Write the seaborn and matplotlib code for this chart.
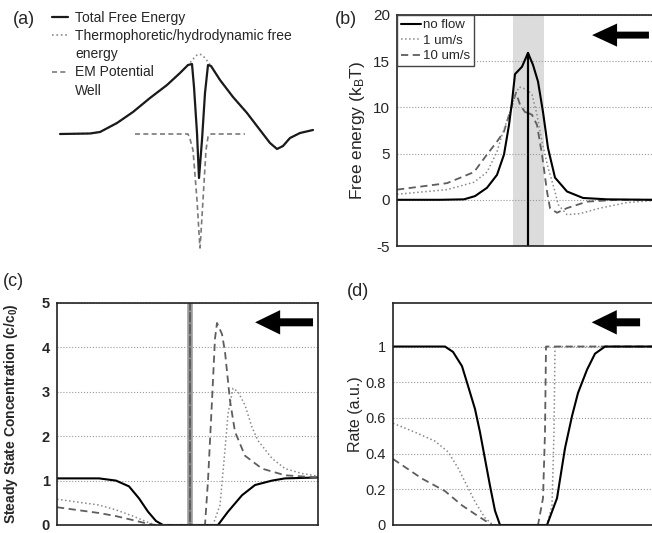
"""
Free energy / concentration / rate panels (a)-(d)
"""
import matplotlib.pyplot as plt
import seaborn as sns
from matplotlib.lines import Line2D
from matplotlib.patches import FancyArrow

sns.set_style("white")
plt.rcParams['font.family'] = ['Liberation Sans', 'DejaVu Sans']
plt.rcParams['mathtext.fontset'] = 'custom'
plt.rcParams['mathtext.rm'] = 'Liberation Sans'
plt.rcParams['mathtext.it'] = 'Liberation Sans:italic'
plt.rcParams['mathtext.bf'] = 'Liberation Sans:bold'
plt.rcParams['axes.unicode_minus'] = False

# --- data (position in arbitrary units, well at 0) ---
# (a) schematic
a_pos = [-14, -11, -10, -8.3, -6.7, -5, -3.3, -2, -1.2, -0.8, -0.6, -0.3, -0.1,
         0.2, 0.5, 0.8, 1.1, 2, 3.3, 4.7, 6, 7, 7.7, 8.3, 9, 10, 11.3]
a_total = [0, 0.05, 0.2, 1.1, 2.2, 3.6, 4.9, 6.1, 6.9, 7.0, 4.7, 0.1, -4.4,
           -0.6, 4.1, 6.9, 6.8, 5.4, 3.7, 2.1, 0.4, -0.9, -1.5, -1.2, -0.4, 0.1, 0.4]
a_thermo = [0, 0.05, 0.2, 1.1, 2.2, 3.6, 4.9, 6.1, 6.9, 7.35, 7.6, 7.9, 8.0,
            7.9, 7.6, 7.2, 6.8, 5.4, 3.7, 2.1, 0.4, -0.9, -1.5, -1.2, -0.4, 0.1, 0.4]
a_well_pos = [-6.5, -1.2, -1.0, -0.7, -0.3, -0.1, 0, 0.1, 0.3, 0.6, 0.8, 1.0, 4.5]
a_well = [0, 0, -0.5, -1.6, -6.6, -9.9, -11.4, -9.9, -6.6, -1.6, -0.3, 0, 0]

# (b) free energy (kBT)
b_pos_none = [-13.1, -8.8, -6.4, -5.3, -4.1, -3.1, -2.4, -1.9, -1.6, -1.3, -0.6, 0, 0, 0,
              0.5, 1.0, 1.5, 2.0, 2.7, 3.9, 5.5, 7.9, 12.4]
b_none = [0, 0, 0.05, 0.4, 1.3, 2.7, 4.9, 8.1, 10.6, 13.6, 14.4, 15.9, -8, 15.9,
          14.6, 12.8, 9.5, 5.6, 2.4, 0.9, 0.2, 0.05, 0]
b_pos_1 = [-13.1, -8.1, -5.4, -4.1, -3.1, -2.6, -1.9, -1.4, -0.9, -0.5, 0, 0, 0,
           0.4, 0.9, 1.4, 2.0, 2.7, 3.0, 3.9, 5.2, 7.2, 9.9, 12.4]
b_1 = [0.6, 1.1, 1.9, 3.0, 5.2, 7.0, 9.2, 11.0, 12.2, 12.1, 11.8, -8, 11.8,
       11.4, 9.2, 6.3, 3.5, 0.9, -0.5, -1.6, -1.5, -0.9, -0.3, -0.1]
b_pos_10 = [-13.1, -8.1, -5.4, -4.1, -3.1, -2.4, -1.8, -1.2, -0.8, -0.3, 0, 0, 0,
            0.4, 0.9, 1.4, 1.9, 2.2, 2.9, 3.9, 5.9, 8.9, 12.4]
b_10 = [1.1, 1.8, 3.0, 4.9, 6.3, 7.4, 9.5, 11.6, 10.3, 9.5, 9.4, -8, 9.4,
        9.2, 8.1, 4.9, 0.9, -0.9, -1.4, -0.9, -0.2, 0, 0]
b_shade = [-1.5, 1.6]

# (c) steady state concentration (c/c0)
c_pos_none = [-13.3, -9.1, -7.4, -6.1, -5.1, -4.2, -3.4, -2.7, 2.8, 3.8, 5.2, 6.5, 8.2, 9.5, 12.8]
c_none = [1.05, 1.05, 1.0, 0.87, 0.6, 0.3, 0.09, 0, 0, 0.3, 0.67, 0.9, 1.0, 1.05, 1.07]
c_pos_1 = [-13.3, -9.1, -7.4, -5.7, -4.1, -3.4, 0, 0, 0, 2.3, 3.0, 3.5, 3.8, 4.3, 4.8,
           5.5, 6.2, 6.8, 8.2, 9.5, 11.2, 12.8]
c_1 = [0.58, 0.45, 0.34, 0.2, 0.05, 0, 0, 6, 0, 0, 0.45, 1.7, 2.5, 3.08, 3.0,
       2.7, 2.2, 1.9, 1.5, 1.27, 1.16, 1.1]
c_pos_10 = [-13.3, -9.1, -7.4, -5.7, -4.1, -3.4, 0, 0, 0, 1.5, 1.8, 2.2, 2.5, 2.7, 3.2,
            3.5, 4.0, 4.5, 5.5, 7.2, 9.5, 12.8]
c_10 = [0.4, 0.27, 0.2, 0.11, 0.02, 0, 0, 6, 0, 0, 1.0, 2.8, 4.2, 4.55, 4.3,
        3.9, 2.8, 2.1, 1.56, 1.27, 1.12, 1.07]
c_well = 0

# (d) rate (a.u.)
d_pos_none = [-13.0, -7.8, -7.0, -6.1, -5.5, -4.8, -4.3, -3.8, -3.3, -2.8, -2.3,
              2.4, 3.4, 4.2, 4.9, 5.5, 6.4, 7.2, 8.2, 12.9]
d_none = [1, 1, 0.97, 0.89, 0.78, 0.65, 0.52, 0.37, 0.22, 0.08, 0,
          0, 0.15, 0.43, 0.61, 0.74, 0.87, 0.96, 1.0, 1.0]
d_pos_1 = [-13.0, -10.8, -8.8, -7.5, -6.5, -5.6, -4.8, -3.8, -3.0, 2.4, 2.9, 3.1, 3.2, 12.9]
d_1 = [0.57, 0.52, 0.47, 0.41, 0.32, 0.22, 0.13, 0.04, 0, 0, 0.11, 0.52, 1.0, 1.0]
d_pos_10 = [-13.0, -10.1, -7.8, -6.1, -4.5, -3.1, 1.5, 2.0, 2.2, 2.3, 12.9]
d_10 = [0.37, 0.26, 0.19, 0.11, 0.05, 0, 0, 0.15, 0.52, 1.0, 1.0]

flow_labels = ['no flow', '1 um/s', '10 um/s']

# --- styles ---
STY_NONE = dict(color='black', lw=1.5, linestyle='-')
STY_1 = dict(color='#8a8a8a', lw=1.1, linestyle=':')
STY_10 = dict(color='#5e5e5e', lw=1.3, linestyle=(0, (4, 2.5)))


def line(ax, x, y, sty):
    sns.lineplot(x=x, y=y, ax=ax, sort=False, estimator=None, **sty)


def style_axes(ax, xlim, ylim, yticks, ylabels, size, bold=False, right=True):
    ax.set_xlim(*xlim)
    ax.set_ylim(*ylim)
    ax.set_xticks([])
    ax.set_yticks(yticks)
    ax.set_yticklabels(ylabels, fontsize=size,
                       fontweight='bold' if bold else 'normal')
    ax.tick_params(axis='y', length=0, pad=5)
    ax.yaxis.grid(True, linestyle=':', color='#9a9a9a', lw=0.8)
    ax.set_axisbelow(True)
    for s in ax.spines.values():
        s.set_color('#222222')
        s.set_linewidth(1.2)
    if not right:
        ax.spines['right'].set_visible(False)


def flow_arrow(ax, tip, tail, y, head_len, head_w, shaft_w):
    ax.add_patch(FancyArrow(tail, y, tip - tail, 0, width=shaft_w,
                            head_width=head_w, head_length=head_len,
                            length_includes_head=True, transform=ax.transAxes,
                            color='black', lw=0, clip_on=False))


fig = plt.figure(figsize=(6.52, 5.33), dpi=100)
W, H = 652, 533

# ---------- (a) ----------
ax_a = fig.add_axes([40 / W, (H - 260) / H, 290 / W, 220 / H])
line(ax_a, a_pos, a_thermo, dict(color='#8a8a8a', lw=1.2, linestyle=':'))
line(ax_a, a_pos, a_total, dict(color='#1a1a1a', lw=1.6, linestyle='-'))
line(ax_a, a_well_pos, a_well, dict(color='#7a7a7a', lw=1.2, linestyle=(0, (3, 2))))
ax_a.set_xlim(-16, 13)
ax_a.set_ylim(-12.6, 9.4)
ax_a.axis('off')

a_handles = [Line2D([], [], color='#1a1a1a', lw=1.6),
             Line2D([], [], color='#8a8a8a', lw=1.2, linestyle=':'),
             Line2D([], [], color='none'),
             Line2D([], [], color='#7a7a7a', lw=1.2, linestyle=(0, (3, 2))),
             Line2D([], [], color='none')]
a_labels = ['Total Free Energy', 'Thermophoretic/hydrodynamic free', 'energy',
            'EM Potential', 'Well']
fig.legend(a_handles, a_labels, loc='upper left',
           bbox_to_anchor=(52 / W, 1 - 11 / H), frameon=False, fontsize=10,
           handlelength=1.15, handletextpad=0.5, labelspacing=0.3,
           borderpad=0, borderaxespad=0)
fig.text(13 / W, 1 - 20 / H, '(a)', fontsize=13, va='center')

# ---------- (b) ----------
ax_b = fig.add_axes([397 / W, (H - 246) / H, 255 / W, 231 / H])
ax_b.axvspan(b_shade[0], b_shade[1], color='#dcdcdc', lw=0, zorder=0.5)
line(ax_b, b_pos_10, b_10, STY_10)
line(ax_b, b_pos_1, b_1, STY_1)
line(ax_b, b_pos_none, b_none, STY_NONE)
style_axes(ax_b, (-13.1, 12.4), (-5, 20), [-5, 0, 5, 10, 15, 20],
           ['-5', '0', '5', '10', '15', '20'], 11, right=False)
ax_b.set_ylabel('Free energy (k$_\\mathrm{B}$T)', fontsize=12.5)
ax_b.yaxis.set_label_coords(-0.118, 0.5)
leg_b = ax_b.legend([Line2D([], [], **STY_NONE), Line2D([], [], **STY_1),
                     Line2D([], [], **STY_10)], flow_labels,
                    loc='upper left', bbox_to_anchor=(0, 1), borderaxespad=0,
                    fontsize=9.5, handlelength=1.5, handletextpad=0.15,
                    labelspacing=0.25, borderpad=0.3, fancybox=False,
                    edgecolor='#444444', framealpha=1)
leg_b.get_frame().set_linewidth(1.0)
flow_arrow(ax_b, 0.765, 0.988, 0.913, 0.098, 0.10, 0.030)
fig.text(335 / W, 1 - 19 / H, '(b)', fontsize=13, va='center')

# ---------- (c) ----------
ax_c = fig.add_axes([57 / W, 8 / H, 261 / W, 222 / H])
ax_c.axvline(c_well, color='#9a9a9a', lw=4, zorder=1.5)
line(ax_c, c_pos_none, c_none, STY_NONE)
line(ax_c, c_pos_1, c_1, STY_1)
line(ax_c, c_pos_10, c_10, STY_10)
style_axes(ax_c, (-13.3, 12.8), (0, 5), [0, 1, 2, 3, 4, 5],
           ['0', '1', '2', '3', '4', '5'], 10.5, bold=True)
ax_c.set_ylabel('Steady State Concentration (c/c$_\\mathbf{0}$)', fontsize=10,
                fontweight='bold')
ax_c.yaxis.set_label_coords(-0.14, 0.5)
flow_arrow(ax_c, 0.759, 0.981, 0.913, 0.096, 0.11, 0.036)
fig.text(3 / W, 1 - 281 / H, '(c)', fontsize=13, va='center')

# ---------- (d) ----------
ax_d = fig.add_axes([393 / W, 8 / H, 259 / W, 222 / H])
line(ax_d, d_pos_1, d_1, STY_1)
line(ax_d, d_pos_10, d_10, STY_10)
line(ax_d, d_pos_none, d_none, STY_NONE)
style_axes(ax_d, (-13.0, 12.9), (0, 1.244), [0, 0.2, 0.4, 0.6, 0.8, 1.0],
           ['0', '0.2', '0.4', '0.6', '0.8', '1'], 10.5, right=False)
ax_d.set_ylabel('Rate (a.u.)', fontsize=11.5)
ax_d.yaxis.set_label_coords(-0.116, 0.5)
flow_arrow(ax_d, 0.767, 0.954, 0.913, 0.097, 0.11, 0.036)
fig.text(347 / W, 1 - 291 / H, '(d)', fontsize=13, va='center')

fig.savefig('out.png', dpi=100)
print("saved out.png")
